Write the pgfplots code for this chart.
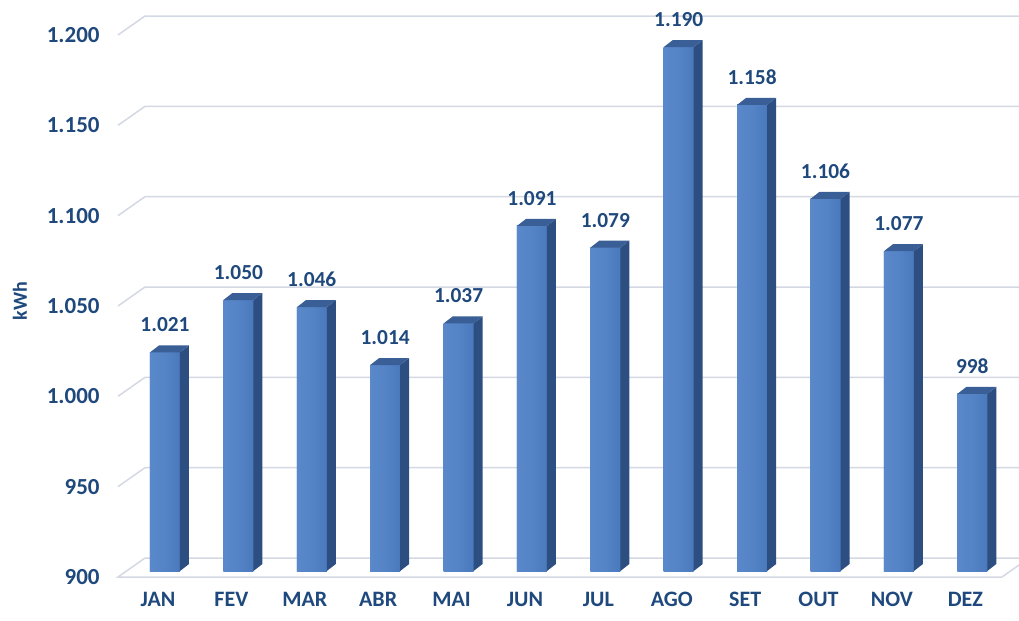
\documentclass[border=0pt]{standalone}
\usepackage{fontspec}
\setmainfont{Carlito}
\usepackage{pgfplots}
\pgfplotsset{compat=1.18}
\usepackage{pgfplotstable}
\definecolor{lbl}{RGB}{31,73,125}
\definecolor{gridc}{RGB}{212,216,226}
\definecolor{barL}{RGB}{96,142,206}
\definecolor{barM}{RGB}{84,131,198}
\definecolor{barR}{RGB}{64,110,178}
\definecolor{barside}{RGB}{44,78,128}
\definecolor{bartop}{RGB}{58,94,150}
\pgfdeclarehorizontalshading{barshade}{100bp}{color(0bp)=(barL); color(50bp)=(barM); color(100bp)=(barR)}
\pgfplotstableread{
x v
0 1021
1 1050
2 1046
3 1014
4 1037
5 1091
6 1079
7 1190
8 1158
9 1106
10 1077
11 998
}\datatable
\pgfdeclareplotmark{barside}{%
  \pgfmathsetmacro\hh{(\rawv-900)*0.90333}%
  \pgfpathrectangle{\pgfpoint{-7.5pt}{-\hh pt}}{\pgfpoint{15pt}{\hh pt}}%
  \pgfshadepath{barshade}{0}%
  \pgfusepath{discard}%
  \pgfsetfillcolor{barside}%
  \pgfpathmoveto{\pgfpoint{7.5pt}{0pt}}%
  \pgfpathlineto{\pgfpoint{12pt}{3.5pt}}%
  \pgfpathlineto{\pgfpoint{12pt}{3.5pt-\hh pt}}%
  \pgfpathlineto{\pgfpoint{7.5pt}{-\hh pt}}%
  \pgfpathclose
  \pgfusepath{fill}%
  \pgfsetfillcolor{bartop}%
  \pgfpathmoveto{\pgfpoint{-7.5pt}{0pt}}%
  \pgfpathlineto{\pgfpoint{7.5pt}{0pt}}%
  \pgfpathlineto{\pgfpoint{12pt}{3.5pt}}%
  \pgfpathlineto{\pgfpoint{-3pt}{3.5pt}}%
  \pgfpathclose
  \pgfusepath{fill}%
}
\begin{document}
\begin{tikzpicture}
\useasboundingbox (0,0) rectangle (509.5pt,-310.5pt);
\begin{axis}[
  at={(59pt,-288.5pt)}, anchor=south west,
  scale only axis, width=442pt, height=271pt,
  xmin=-0.545, xmax=11.5, ymin=900, ymax=1200,
  y coord trafo/.code={\pgfmathparse{#1-900}},
  y coord inv trafo/.code={\pgfmathparse{#1+900}},
  clip=false,
  axis line style={draw=none},
  tick style={draw=none},
  xtick={0,...,11},
  xticklabels={JAN,FEV,MAR,ABR,MAI,JUN,JUL,AGO,SET,OUT,NOV,DEZ},
  ytick={900,950,...,1200},
  yticklabels={900,950,1.000,1.050,1.100,1.150,1.200},
  xticklabel style={anchor=north, inner sep=0pt, yshift=-7.5pt, font=\fontsize{11}{13}\selectfont\bfseries, text=lbl},
  yticklabel style={anchor=east, inner sep=0pt, xshift=-9pt, font=\fontsize{11.5}{13}\selectfont\bfseries, text=lbl},
  ylabel={kWh},
  every axis y label/.style={at={(rel axis cs:-0.111,0.509)}, rotate=90, anchor=center, font=\fontsize{10}{12}\selectfont\bfseries, text=lbl},
]
\pgfplotsinvokeforeach{950,1000,...,1200}{
  \draw[gridc, line width=0.75pt] (axis cs:-0.545,#1) -- ++(13.5pt,9.5pt) -- ++(442pt,0pt);
}
\draw[gridc, line width=0.75pt] (axis cs:11.5,900) -- (axis cs:-0.545,900) -- ++(13.5pt,9.5pt) -- ++(442pt,0pt);
\draw[gridc, line width=0.75pt] (axis cs:11.5,900) -- ++(13.5pt,9.5pt);
\addplot[ybar, bar width=15pt, draw=none, fill=barM,
  xshift=3.5pt, yshift=3pt,
  point meta=explicit,
  nodes near coords={\pgfmathprintnumber[1000 sep={.}, assume math mode=true]{\pgfplotspointmeta}},
  every node near coord/.append style={anchor=south, inner sep=0pt, yshift=10pt, font=\fontsize{10.7}{12}\selectfont\bfseries, text=lbl}]
  table[x=x, y=v, meta=v] {\datatable};
\addplot[only marks, mark=barside, xshift=3.5pt, yshift=3pt,
  visualization depends on={\thisrow{v} \as \rawv}]
  table[x=x, y=v] {\datatable};
\end{axis}
\end{tikzpicture}
\end{document}
